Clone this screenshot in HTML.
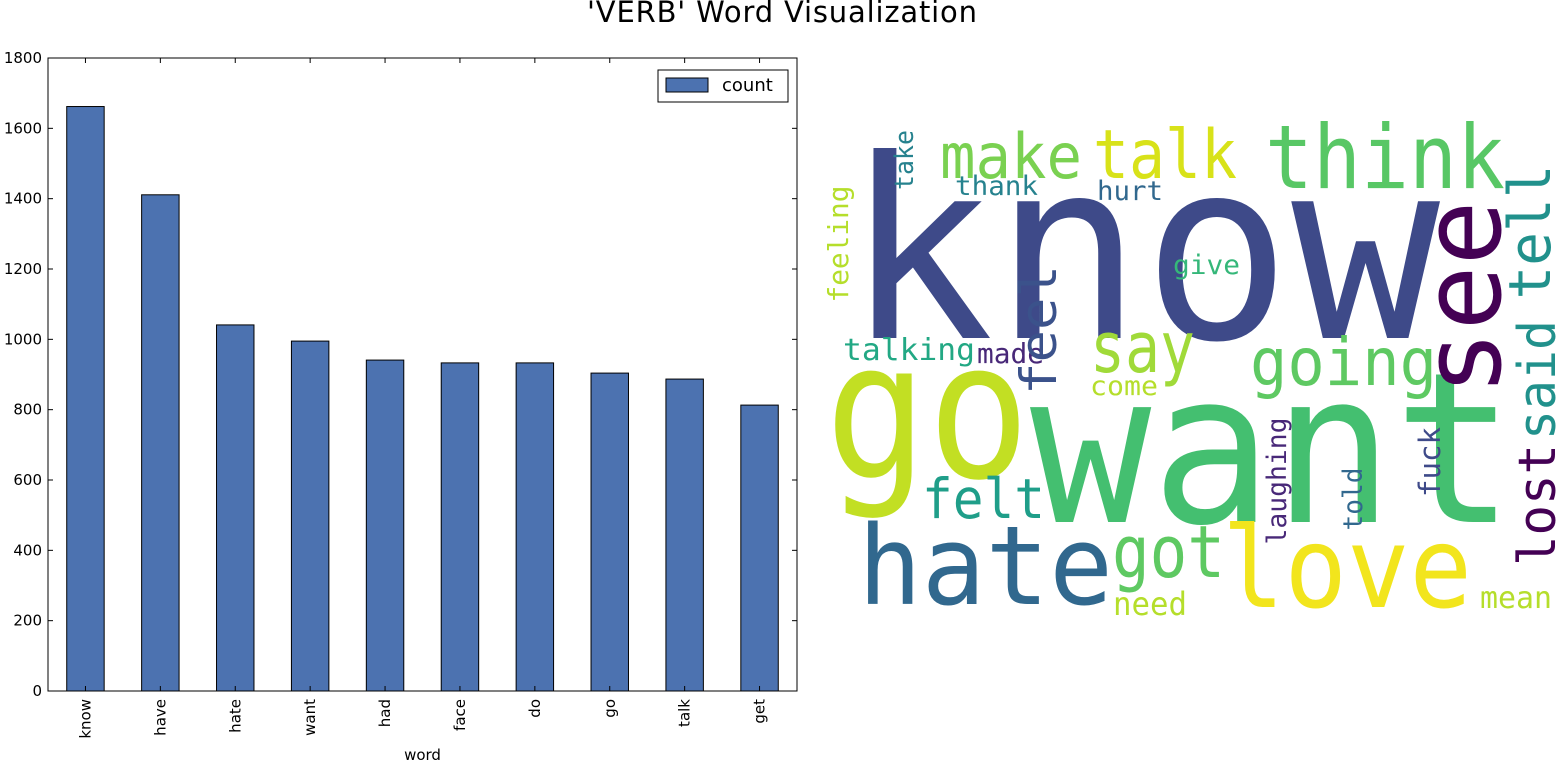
<!DOCTYPE html>
<html><head><meta charset="utf-8"><style>
body{margin:0;background:#fff;width:1563px;height:763px;overflow:hidden}
svg{position:absolute;left:0;top:0}
</style></head><body>
<svg width="1563" height="763" xmlns="http://www.w3.org/2000/svg" font-family="'DejaVu Sans','Liberation Sans',sans-serif">
<text x="782" y="22" text-anchor="middle" font-size="29" fill="#000" textLength="390">'VERB' Word Visualization</text>
<g id="chart"></g>
<g id="cloud" font-family="'DejaVu Sans Mono','Liberation Mono',monospace"></g>
</svg>
<script>
const categories=['know','have','hate','want','had','face','do','go','talk','get'];
const counts=[1662,1411,1041,995,941,933,933,904,887,813];
const yTicks=[0,200,400,600,800,1000,1200,1400,1600,1800];
const NS='http://www.w3.org/2000/svg';
const L=48,R=797,T=58,B=691,YMAX=1800;
const y=v=>B-(v/YMAX)*(B-T);
const step=(R-L)/categories.length;
const x=i=>L+step*(i+0.5);
const g=document.getElementById('chart');
function mk(tag,attrs,parent){const e=document.createElementNS(NS,tag);for(const k in attrs)e.setAttribute(k,attrs[k]);parent.appendChild(e);return e;}
counts.forEach((v,i)=>{
 const r=mk('rect',{x:x(i)-step*0.25,y:y(v),width:step*0.5,height:B-y(v),fill:'#4c72b0',stroke:'#000','stroke-width':1},g);
 
 
 const t=mk('text',{x:0,y:0,'font-size':15,'text-anchor':'end',transform:`translate(${x(i)+5},${B+8}) rotate(-90)`},g);
 t.textContent=categories[i];
 
 
 mk('line',{x1:x(i),x2:x(i),y1:B,y2:B-5,stroke:'#000'},g);
 mk('line',{x1:x(i),x2:x(i),y1:T,y2:T+5,stroke:'#000'},g);
});
yTicks.forEach(v=>{
 mk('line',{x1:L,x2:L+5,y1:y(v),y2:y(v),stroke:'#000'},g);
 mk('line',{x1:R,x2:R-5,y1:y(v),y2:y(v),stroke:'#000'},g);
 const t=mk('text',{x:L-6,y:y(v)+5,'font-size':15,'text-anchor':'end'},g);
 t.textContent=v;
 
 
});
const fr=mk('rect',{x:L,y:T,width:R-L,height:B-T,fill:'none',stroke:'#000'},g);


const xl=mk('text',{x:(L+R)/2,y:760,'font-size':15,'text-anchor':'middle'},g);
xl.textContent='word';


const lg=mk('g',{},g);


mk('rect',{x:658,y:70,width:130,height:32,fill:'#fff',stroke:'#000'},lg);
mk('rect',{x:666,y:78,width:42,height:14,fill:'#4c72b0',stroke:'#000'},lg);
const lt=mk('text',{x:722,y:91,'font-size':18},lg);
lt.textContent='count';



// word cloud: [word, x, y, fontSize, length, color, rotated]
const words=[
['know',845,338,250,595,'#3e4a89',0],
['go',825,477,190,205,'#c2df23',0],
['want',1030,522,210,485,'#44bf70',0],
['hate',858,604,110,255,'#31688e',0],
['love',1222,607,112,250,'#f2e51d',0],
['think',1265,188,88,240,'#58c765',0],
['talk',1093,178,68,144,'#d8e219',0],
['make',940,178,62,142,'#7ad151',0],
['say',1090,372,70,105,'#a0da39',0],
['going',1250,385,66,187,'#5ec962',0],
['felt',922,518,55,123,'#1f9e89',0],
['got',1112,577,72,113,'#5ec962',0],
['need',1113,615,32,74,'#b5de2b',0],
['mean',1480,608,30,72,'#b5de2b',0],
['talking',843,360,30,132,'#22a884',0],
['made',977,363,28,67,'#482878',0],
['come',1090,395,27,68,'#b5de2b',0],
['thank',955,195,27,83,'#26828e',0],
['hurt',1097,200,27,66,'#31688e',0],
['give',1173,274,27,67,'#35b779',0],
['see',1500,298,110,195,'#440154',1],
['tell',1550,232,58,135,'#21918c',1],
['said',1555,380,52,120,'#21918c',1],
['lost',1555,505,52,122,'#440154',1],
['feel',1056,330,50,130,'#3b528b',1],
['take',913,160,26,60,'#26828e',1],
['feeling',848,244,28,117,'#b5de2b',1],
['laughing',1286,481,27,127,'#482878',1],
['told',1362,499,27,63,'#31688e',1],
['fuck',1440,462,29,70,'#3e4a89',1]
];
const c=document.getElementById('cloud');
words.forEach(w=>{
 let t;
 if(!w[6]) t=mk('text',{x:w[1],y:w[2],'font-size':w[3],fill:w[5],textLength:w[4],lengthAdjust:'spacingAndGlyphs'},c);
 else t=mk('text',{x:0,y:0,'font-size':w[3],fill:w[5],'text-anchor':'middle',textLength:w[4],lengthAdjust:'spacingAndGlyphs',transform:`translate(${w[1]},${w[2]}) rotate(-90)`},c);
 t.textContent=w[0];
 
 
});
</script>
</body></html>
